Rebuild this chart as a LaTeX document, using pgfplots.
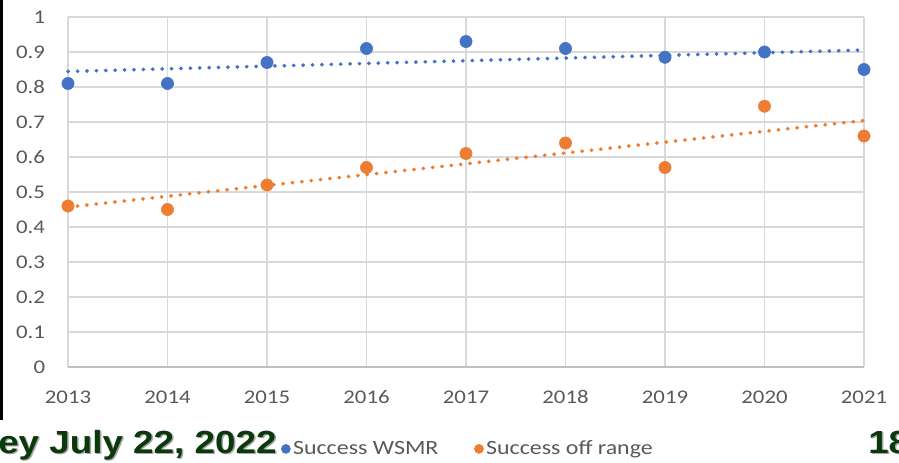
\documentclass[border=0pt]{standalone}
\usepackage{pgfplots}
\usepackage{pgfplotstable}
\pgfplotsset{compat=1.18}
\usepackage{fontspec}
\setmainfont{Carlito}[FakeStretch=1.18]
\newfontfamily\arialb{Liberation Sans Bold}[FakeStretch=1.15]
\definecolor{xblue}{HTML}{4472C4}
\definecolor{xorange}{HTML}{ED7D31}
\definecolor{xgrid}{HTML}{D9D9D9}
\definecolor{xtext}{HTML}{595959}
\definecolor{xgreen}{RGB}{10,58,12}
\pgfplotstableread{
idx year blue orange
0 2013 0.81 0.46
1 2014 0.81 0.45
2 2015 0.87 0.52
3 2016 0.91 0.57
4 2017 0.93 0.61
5 2018 0.91 0.64
6 2019 0.885 0.57
7 2020 0.90 0.745
8 2021 0.85 0.66
}\datatable
\begin{document}
\begin{tikzpicture}
\begin{axis}[
  scale only axis,
  width=597pt, height=262.5pt,
  xmin=0, xmax=8, ymin=0, ymax=1,
  xtick={0,...,8}, xticklabels={2013,2014,2015,2016,2017,2018,2019,2020,2021},
  ytick={0,0.1,...,1.0},
  /pgf/number format/assume math mode=true,
  xticklabel style={anchor=center, yshift=-22.5pt, inner sep=0pt, font=\fontsize{14.5}{16}\selectfont, text=xtext},
  yticklabel style={anchor=east, xshift=-17pt, inner sep=0pt, font=\fontsize{14.5}{16}\selectfont, text=xtext,
    /pgf/number format/fixed, /pgf/number format/precision=1},
  major tick length=0pt,
  grid=major, grid style={xgrid, line width=0.8pt},
  axis line style={draw=none},
  legend style={at={(0.503,-0.234)}, anchor=center, draw=none, fill=none, legend columns=2,
    font=\fontsize{15.2}{16}\selectfont, text=xtext,
    /tikz/every even column/.append style={column sep=25pt}},
  legend image post style={mark size=3.4pt},
  legend cell align=left,
  clip=false,
]
\draw[color={rgb,255:red,191;green,191;blue,191}, line width=0.8pt] (rel axis cs:0,0) -- (rel axis cs:1,0);
\addplot[xblue, line width=2.8pt, line cap=round, dash pattern=on 0.3pt off 6.75pt, forget plot]
  table[x=idx, y={create col/linear regression={x=idx, y=blue}}] {\datatable};
\addplot[xorange, line width=2.8pt, line cap=round, dash pattern=on 0.3pt off 6.75pt, forget plot]
  table[x=idx, y={create col/linear regression={x=idx, y=orange}}] {\datatable};
\addplot[only marks, mark=*, mark size=4.6pt, draw=none, mark options={fill=xblue, draw=none}, color=xblue]
  table[x=idx, y=blue] {\datatable};
\addlegendentry{Success WSMR}
\addplot[only marks, mark=*, mark size=4.6pt, draw=none, mark options={fill=xorange, draw=none}, color=xorange]
  table[x=idx, y=orange] {\datatable};
\addlegendentry{Success off range}
\end{axis}
\begin{scope}[x=0.75pt, y=0.75pt]
\useasboundingbox (-68,-95) rectangle (831,367);
\fill[black] (-68,-53) rectangle (-64.5,367);
\node[anchor=base west, inner sep=0pt, text=gray!70] at (-68.5,-87.8) {\arialb\fontsize{24}{26}\selectfont ey July 22, 2022};
\node[anchor=base west, inner sep=0pt, text=xgreen] at (-70,-86) {\arialb\fontsize{24}{26}\selectfont ey July 22, 2022};
\node[anchor=base west, inner sep=0pt, text=gray!70] at (801.5,-87.8) {\arialb\fontsize{24}{26}\selectfont 18};
\node[anchor=base west, inner sep=0pt, text=xgreen] at (800,-86) {\arialb\fontsize{24}{26}\selectfont 18};
\end{scope}
\end{tikzpicture}
\end{document}
